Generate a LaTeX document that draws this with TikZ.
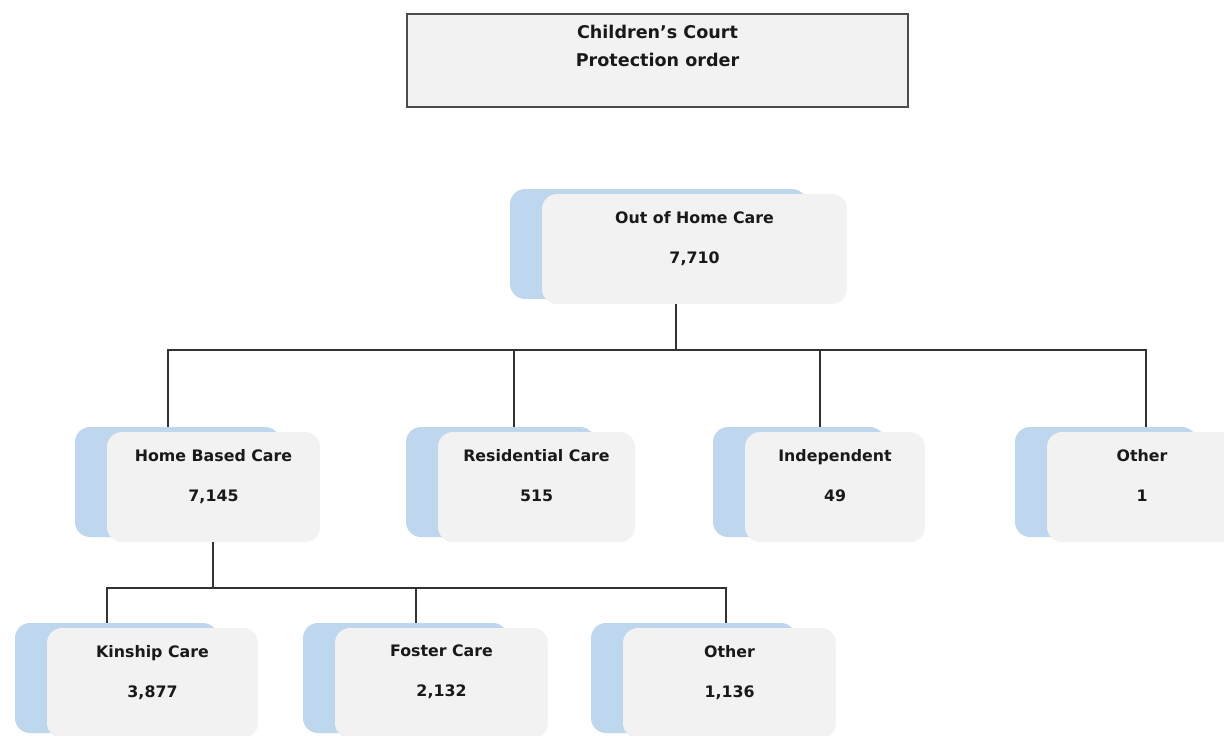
\documentclass[tikz,border=0pt]{standalone}
\usepackage{fontspec}
\setmainfont{DejaVu Sans}
\usetikzlibrary{positioning,calc}

\definecolor{backblue}{RGB}{190,214,238}
\definecolor{frontgray}{RGB}{242,242,242}
\definecolor{linegray}{RGB}{50,50,50}

\begin{document}
\begin{tikzpicture}[x=0.02cm,y=-0.02cm,
  courtbox/.style={fill=frontgray, draw=black!70, line width=1pt, minimum width=10.02cm, minimum height=1.86cm, inner sep=0pt},
  backbox/.style={fill=backblue, rounded corners=0.3cm, minimum height=2.2cm, inner sep=0pt},
  frontbox/.style={fill=frontgray, rounded corners=0.3cm, minimum height=2.2cm, inner sep=0pt},
  boxlabel/.style={font=\fontsize{9}{22.8}\selectfont\bfseries, text=black!90, align=center, inner sep=0pt},
  link/.style={draw=linegray, line width=1.1pt}]
\clip (0,0) rectangle (1224,735);
\fill[white] (0,0) rectangle (1224,735);

% top box
\node[courtbox] (court) at (657.5,60.5) {};
\node[font=\fontsize{10}{15.9}\selectfont\bfseries, text=black!90, align=center, inner sep=0pt, below=0.24cm of court.north] (court-text) {Children’s Court\\Protection order};

% out of home care
\node[backbox, minimum width=5.94cm] (ohc-back) at (658.5,244) {};
\node[frontbox, minimum width=6.1cm] (ohc) at (694.5,249) {};
\node[boxlabel, below=0.34cm of ohc.north] (ohc-text) {Out of Home Care\\7,710};

% second row
\node[backbox, minimum width=4.1cm] (hbc-back) at (177.5,482) {};
\node[frontbox, minimum width=4.26cm] (hbc) at (213.5,487) {};
\node[boxlabel, below=0.34cm of hbc.north] (hbc-text) {Home Based Care\\7,145};

\node[backbox, minimum width=3.78cm] (res-back) at (500.5,482) {};
\node[frontbox, minimum width=3.94cm] (res) at (536.5,487) {};
\node[boxlabel, below=0.34cm of res.north] (res-text) {Residential Care\\515};

\node[backbox, minimum width=3.44cm] (ind-back) at (799,482) {};
\node[frontbox, minimum width=3.6cm] (ind) at (835,487) {};
\node[boxlabel, below=0.34cm of ind.north] (ind-text) {Independent\\49};

\node[backbox, minimum width=3.64cm] (oth-back) at (1106,482) {};
\node[frontbox, minimum width=3.8cm] (oth) at (1142,487) {};
\node[boxlabel, below=0.34cm of oth.north] (oth-text) {Other\\1};

% third row
\node[backbox, minimum width=4.06cm] (kin-back) at (116.5,678) {};
\node[frontbox, minimum width=4.22cm] (kin) at (152.5,683) {};
\node[boxlabel, below=0.34cm of kin.north] (kin-text) {Kinship Care\\3,877};

\node[backbox, minimum width=4.1cm] (fos-back) at (405.5,678) {};
\node[frontbox, minimum width=4.26cm] (fos) at (441.5,683) {};
\node[boxlabel, below=0.34cm of fos.north] (fos-text) {Foster Care\\2,132};

\node[backbox, minimum width=4.1cm] (hbcoth-back) at (693.5,678) {};
\node[frontbox, minimum width=4.26cm] (hbcoth) at (729.5,683) {};
\node[boxlabel, below=0.34cm of hbcoth.north] (hbcoth-text) {Other\\1,136};

% connectors
\coordinate (ohc-out) at (676,304);
\coordinate (hbc-out) at (213,542);
\coordinate (hbc-in) at (168,427);
\coordinate (res-in) at (514,427);
\coordinate (ind-in) at (820,427);
\coordinate (oth-in) at (1146,427);
\coordinate (kin-in) at (107,623);
\coordinate (fos-in) at (416,623);
\coordinate (hbcoth-in) at (726,623);

\draw[link] (ohc-out) -- ++(0,46) -| (hbc-in);
\draw[link] (ohc-out) -- ++(0,46) -| (res-in);
\draw[link] (ohc-out) -- ++(0,46) -| (ind-in);
\draw[link] (ohc-out) -- ++(0,46) -| (oth-in);

\draw[link] (hbc-out) -- ++(0,46) -| (kin-in);
\draw[link] (hbc-out) -- ++(0,46) -| (fos-in);
\draw[link] (hbc-out) -- ++(0,46) -| (hbcoth-in);
\end{tikzpicture}
\end{document}
